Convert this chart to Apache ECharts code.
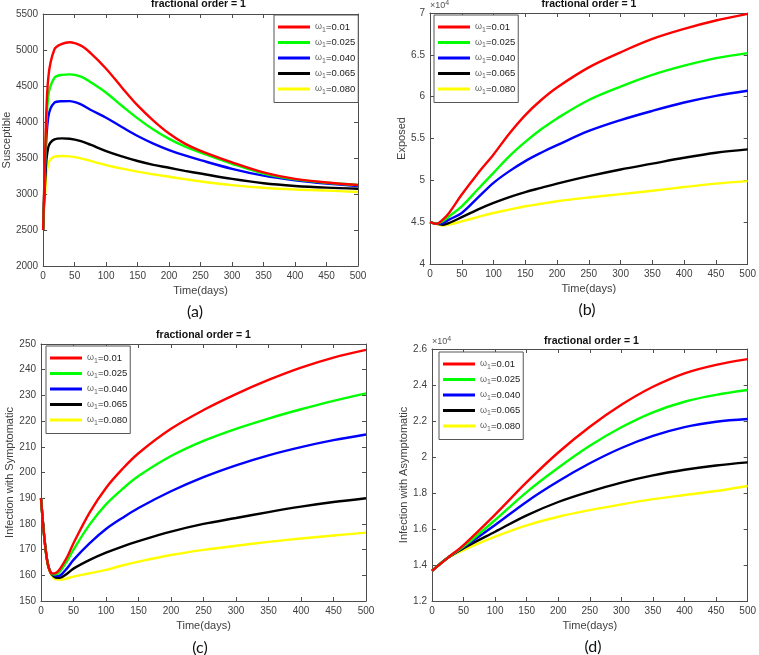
<!DOCTYPE html>
<html><head><meta charset="utf-8">
<script src="https://cdn.jsdelivr.net/npm/echarts@6/dist/echarts.min.js"></script>
<style>html,body{margin:0;padding:0;background:#fff}#c{width:759px;height:655px}</style>
</head><body><div id="c"></div>
<script>
// ---------- data ----------
const seriesNames = ['ω1=0.01', 'ω1=0.025', 'ω1=0.040', 'ω1=0.065', 'ω1=0.080'];
const seriesColors = ['#ff0000', '#00ff00', '#0000ff', '#000000', '#ffff00'];
const xTicks = { min: 0, max: 500, interval: 50 };

// (a) Susceptible
const tA = [0, 3, 8, 18, 30, 42, 60, 75, 100, 125, 150, 175, 200, 225, 250, 300, 350, 400, 450, 500];
const susRed    = [2500, 3500, 4600, 5010, 5085, 5108, 5060, 4960, 4740, 4480, 4230, 4020, 3840, 3700, 3600, 3440, 3300, 3210, 3160, 3125];
const susGreen  = [2500, 3400, 4350, 4615, 4655, 4661, 4630, 4555, 4407, 4225, 4050, 3895, 3765, 3660, 3575, 3420, 3285, 3203, 3156, 3125];
const susBlue   = [2500, 3300, 4060, 4268, 4288, 4290, 4245, 4170, 4059, 3930, 3805, 3700, 3610, 3535, 3470, 3350, 3255, 3190, 3145, 3112];
const susBlack  = [2500, 3150, 3643, 3758, 3772, 3768, 3735, 3685, 3596, 3522, 3458, 3405, 3364, 3322, 3284, 3210, 3150, 3112, 3088, 3073];
const susYellow = [2500, 3000, 3412, 3518, 3528, 3522, 3495, 3460, 3402, 3352, 3310, 3272, 3240, 3206, 3175, 3124, 3087, 3063, 3048, 3028];

// (b) Exposed
const tB = [0, 10, 20, 30, 50, 75, 100, 125, 150, 175, 200, 250, 300, 350, 400, 450, 500];
const expRed    = [45000, 44800, 45300, 46100, 48300, 50800, 53100, 55600, 57800, 59600, 61100, 63500, 65300, 66900, 68100, 69100, 69900];
const expGreen  = [45000, 44800, 45100, 45700, 46900, 48900, 50900, 52900, 54600, 56100, 57400, 59600, 61200, 62600, 63700, 64600, 65200];
const expBlue   = [45000, 44800, 44900, 45300, 46100, 47900, 49700, 51100, 52300, 53300, 54200, 55900, 57200, 58300, 59300, 60100, 60700];
const expBlack  = [45000, 44800, 44700, 44900, 45600, 46500, 47300, 48000, 48600, 49100, 49600, 50500, 51300, 52000, 52700, 53300, 53700];
const expYellow = [45000, 44800, 44600, 44700, 45100, 45600, 46100, 46500, 46900, 47200, 47500, 47950, 48350, 48750, 49200, 49600, 49900];

// (c) Infection with Symptomatic
const tC = [0, 5, 10, 15, 20, 25, 30, 40, 50, 75, 100, 125, 150, 200, 250, 300, 350, 400, 450, 500];
const symRed    = [190, 175, 165, 161, 160.7, 161.3, 162.8, 167, 172.5, 184.5, 194, 201.3, 207.5, 217, 224.3, 230.5, 236, 240.8, 244.7, 247.7];
const symGreen  = [190, 175, 165, 161, 160.3, 160.6, 161.8, 165.5, 170, 179.8, 187.6, 193.5, 198.6, 206.4, 212.3, 217, 221, 224.6, 227.9, 230.8];
const symBlue   = [190, 175, 165, 161, 160, 159.7, 160, 162.7, 166, 172.5, 178, 182.3, 186.2, 192.7, 198.2, 202.8, 206.7, 209.9, 212.6, 214.8];
const symBlack  = [190, 175, 165, 161, 159.5, 159, 159.1, 160.6, 162.6, 166, 168.8, 171.2, 173.3, 177, 180, 182.3, 184.6, 186.7, 188.5, 190];
const symYellow = [190, 174.5, 164.5, 160.5, 158.8, 158.3, 158.3, 158.8, 159.5, 160.8, 162.1, 163.8, 165.3, 167.9, 169.9, 171.5, 173, 174.3, 175.5, 176.6];

// (d) Infection with Asymptomatic
const tD = [0, 25, 50, 100, 150, 200, 250, 300, 350, 400, 450, 500];
const asyRed    = [13670, 14400, 15110, 16800, 18600, 20250, 21680, 22900, 23900, 24650, 25120, 25440];
const asyGreen  = [13670, 14400, 15020, 16500, 18050, 19400, 20620, 21650, 22480, 23070, 23450, 23720];
const asyBlue   = [13670, 14400, 14980, 16220, 17520, 18650, 19650, 20500, 21170, 21660, 21960, 22110];
const asyBlack  = [13670, 14400, 14930, 15850, 16760, 17500, 18080, 18580, 18980, 19290, 19530, 19700];
const asyYellow = [13670, 14400, 14830, 15570, 16200, 16680, 17050, 17370, 17660, 17890, 18110, 18390];

const yTicksA = { min: 2000, max: 5500, interval: 500 };
const yTicksB = { min: 40000, max: 70000, interval: 5000 };
const yTicksC = { min: 150, max: 250, interval: 10 };
const yTicksD = { min: 12000, max: 26000, interval: 2000 };

const panelTitle = 'fractional order = 1';
const xName = 'Time(days)';
const yNames = ['Susceptible', 'Exposed', 'Infection with Symptomatic', 'Infection with Asymptomatic'];
const panelLetters = ['(a)', '(b)', '(c)', '(d)'];

// ---------- layout ----------
const grids = [
  { left: 39, top: 14, width: 319, height: 252 },
  { left: 430, top: 13, width: 318, height: 251 },
  { left: 41, top: 344, width: 325, height: 257 },
  { left: 432, top: 349, width: 319, height: 252 }
];
const yTicks = [yTicksA, yTicksB, yTicksC, yTicksD];
const scaled = [false, true, false, true];
const yNameGaps = [27, 22, 24, 20];
const legendPos = [
  { left: 274, top: 15 }, { left: 434, top: 15 },
  { left: 46, top: 346 }, { left: 439, top: 352 }
];
const titleY = [4, 4, 335, 341];
const letterY = [312, 310, 648, 647];
const letterX = [195, 587, 200, 593];

const FONT = 'Liberation Sans';
const txtColor = '#404040';
const lineCol = '#4d4d4d';

const allData = [
  [tA, [susRed, susGreen, susBlue, susBlack, susYellow]],
  [tB, [expRed, expGreen, expBlue, expBlack, expYellow]],
  [tC, [symRed, symGreen, symBlue, symBlack, symYellow]],
  [tD, [asyRed, asyGreen, asyBlue, asyBlack, asyYellow]]
];

const fmtScaled = v => String(+(v / 10000).toFixed(2));
const fmtPlain = v => String(v);

const xAxes = [], yAxes = [], series = [], legends = [], graphics = [];
for (let g = 0; g < 4; g++) {
  xAxes.push({
    type: 'value', gridIndex: g, position: 'bottom', ...xTicks,
    name: xName, nameLocation: 'middle', nameGap: 19,
    nameTextStyle: { fontFamily: FONT, fontSize: 11, color: txtColor },
    axisLine: { show: true, lineStyle: { color: lineCol, width: 1 } },
    axisTick: { show: true, inside: true, length: 4, lineStyle: { color: lineCol } },
    axisLabel: { show: true, margin: 5, fontFamily: FONT, fontSize: 10, color: txtColor, formatter: fmtPlain, showMinLabel: true, showMaxLabel: true },
    splitLine: { show: false }
  });
  yAxes.push({
    type: 'value', gridIndex: g, position: 'left', ...yTicks[g],
    name: yNames[g], nameLocation: 'middle', nameGap: yNameGaps[g], nameRotate: 90,
    nameTextStyle: { fontFamily: FONT, fontSize: 11, color: txtColor },
    axisLine: { show: true, lineStyle: { color: lineCol, width: 1 } },
    axisTick: { show: true, inside: true, length: 4, lineStyle: { color: lineCol } },
    axisLabel: { show: true, margin: 5, fontFamily: FONT, fontSize: 10, color: txtColor,
      formatter: scaled[g] ? fmtScaled : fmtPlain, showMinLabel: true, showMaxLabel: true },
    splitLine: { show: false }
  });
}
for (let g = 0; g < 4; g++) {
  xAxes.push({
    type: 'value', gridIndex: g, position: 'top', ...xTicks,
    axisLine: { show: true, onZero: false, lineStyle: { color: lineCol, width: 1 } },
    axisTick: { show: true, inside: true, length: 4, lineStyle: { color: lineCol } },
    axisLabel: { show: false }, splitLine: { show: false }
  });
  yAxes.push({
    type: 'value', gridIndex: g, position: 'right', ...yTicks[g],
    axisLine: { show: true, onZero: false, lineStyle: { color: lineCol, width: 1 } },
    axisTick: { show: true, inside: true, length: 4, lineStyle: { color: lineCol } },
    axisLabel: { show: false }, splitLine: { show: false }
  });
}
for (let g = 0; g < 4; g++) {
  const [t, vals] = allData[g];
  vals.forEach((v, i) => {
    series.push({
      type: 'line', name: seriesNames[i], xAxisIndex: g, yAxisIndex: g,
      data: t.map((x, k) => [x, v[k]]),
      symbol: 'none', showSymbol: false, smooth: 0.35,
      lineStyle: { color: seriesColors[i], width: 2.4 },
      itemStyle: { color: seriesColors[i] },
      z: 10 - i
    });
  });
  legends.push({
    ...legendPos[g], orient: 'vertical', data: seriesNames,
    icon: 'rect', itemWidth: 32, itemHeight: 3, itemGap: 4,
    padding: [7, 3, 7, 4],
    backgroundColor: '#fff', borderColor: '#555', borderWidth: 1,
    selectedMode: false,
    formatter: name => {
      const m = name.match(/^ω1=(.*)$/);
      return '{w|ω}{s|1}{v|=' + m[1] + '}';
    },
    textStyle: {
      fontFamily: FONT, fontSize: 9.5, color: '#222',
      rich: {
        w: { fontFamily: FONT, fontSize: 9, color: '#666' },
        s: { fontFamily: FONT, fontSize: 7, color: '#666', padding: [6, 0, 0, 0] },
        v: { fontFamily: FONT, fontSize: 9.5, color: '#222' }
      }
    }
  });
  const gr = grids[g];
  graphics.push({
    type: 'text', x: gr.left + gr.width / 2, y: titleY[g],
    style: { text: panelTitle, fontFamily: FONT, fontSize: 10.5, fontWeight: 'bold', fill: '#111', align: 'center', verticalAlign: 'middle' }
  });
  graphics.push({
    type: 'text', x: letterX[g], y: letterY[g],
    style: { text: panelLetters[g], fontFamily: 'Lato', fontSize: 16, fill: '#111', align: 'center', verticalAlign: 'middle' }
  });
  if (scaled[g]) {
    graphics.push({
      type: 'text', x: gr.left, y: gr.top - 7,
      style: {
        text: '{a|×10}{b|4}', align: 'left', verticalAlign: 'middle',
        rich: {
          a: { fontFamily: FONT, fontSize: 9, fill: '#555' },
          b: { fontFamily: FONT, fontSize: 7, fill: '#555', padding: [0, 0, 6, 0] }
        }
      }
    });
  }
}

const chart = echarts.init(document.getElementById('c'), null, { renderer: 'canvas' });
chart.setOption({
  animation: false,
  backgroundColor: '#fff',
  grid: grids,
  xAxis: xAxes,
  yAxis: yAxes,
  legend: legends,
  series: series,
  graphic: graphics
});
</script>
</body></html>
